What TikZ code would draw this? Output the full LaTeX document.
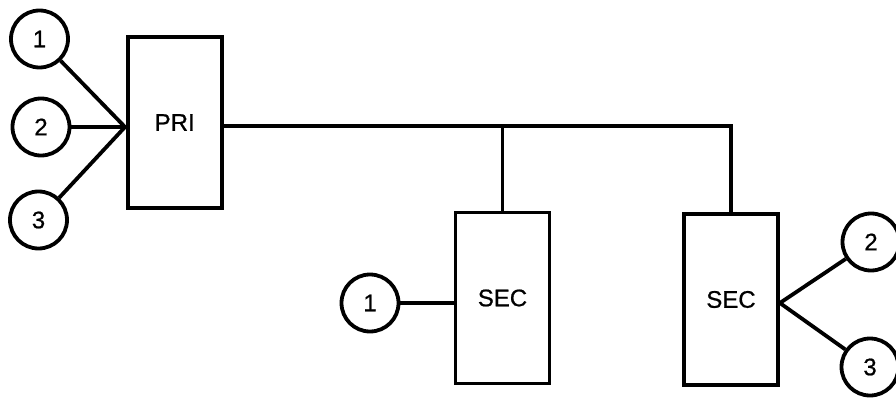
\documentclass[tikz,border=0pt]{standalone}
\usepackage{fontspec}
\setmainfont{Liberation Sans}
\newfontfamily\lblfont{Liberation Sans}[FakeBold=0.8]
\begin{document}
\begin{tikzpicture}[x=1pt,y=-1pt,line width=3.8pt,
  numc/.style={circle,draw,minimum size=57pt,inner sep=0pt,font=\lblfont\fontsize{24}{26}\selectfont},
  unitbox/.style={draw,rectangle,minimum width=94pt,minimum height=171pt,inner sep=0pt,font=\lblfont\fontsize{24}{26}\selectfont},
  wire/.style={line width=3.8pt}]
\useasboundingbox (0,0) rectangle (896,398);
\node[unitbox] (pri) at (174.7,122.5) {PRI};
\node[unitbox] (sec1) at (502.5,298) {SEC};
\node[unitbox] (sec2) at (731,299.5) {SEC};
\node[numc] (a1) at (39.5,39) {1};
\node[numc] (a2) at (41,127) {2};
\node[numc] (a3) at (38.5,220) {3};
\node[numc] (b1) at (370,303) {1};
\node[numc] (c2) at (871,242) {2};
\node[numc] (c3) at (870,367) {3};
\coordinate (pv) at (125,127);
\coordinate (sv) at (sec2.east |- 0,303);
\coordinate (top) at (sec2.north |- 0,126);
\draw[wire] (a1) -- (pv);
\draw[wire] (a2) -- (pv);
\draw[wire] (a3) -- (pv);
\draw[wire] (pv) -- (pri.west |- pv);
\draw[wire] (pri.east |- top) -- (top) -- (sec2.north);
\draw[wire] (sec1.north |- top) -- (sec1.north);
\draw[wire] (b1) -- (b1 -| sec1.west);
\draw[wire] (sv) -- (c2);
\draw[wire] (sv) -- (c3);
\end{tikzpicture}
\end{document}
